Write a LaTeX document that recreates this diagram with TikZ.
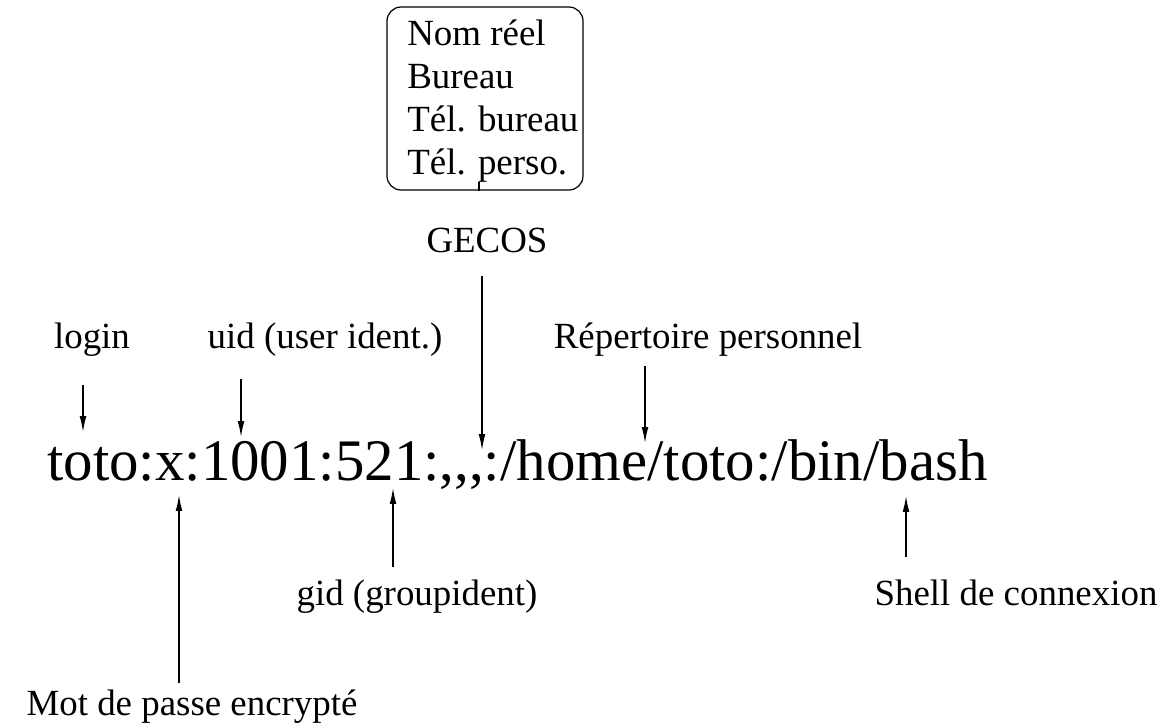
\documentclass[tikz,border=0pt]{standalone}
\usepackage{fontspec}
\setmainfont{Liberation Serif}
\usetikzlibrary{arrows.meta,fit}

\begin{document}
\begin{tikzpicture}[
  x=0.02cm, y=-0.02cm,
  lbl/.style={font=\fontsize{21}{24.4}\selectfont, inner sep=0pt},
  ptr/.style={->, line width=0.7pt},
  >={Latex[length=9pt,width=3.8pt]}
]
\useasboundingbox (0,0) rectangle (1165,727);

% ligne du fichier passwd
\node[anchor=base west, inner sep=0pt, font=\fontsize{33.5}{40}\selectfont] (pw) at (47,480)
  {toto:x:1001:521:,\kern0pt,\kern0pt,:/home/toto:/bin/bash};

% champs au-dessus
\node[lbl, anchor=base] (login) at (92,348) {login};
\node[lbl, anchor=base] (uid) at (325,348) {uid (user ident.)};
\node[lbl, anchor=base] (gecos) at (487,252) {GECOS};
\node[lbl, anchor=base] (rep) at (708,348) {Répertoire personnel};
% champs au-dessous
\node[lbl, anchor=base] (gid) at (417,605) {gid (groupident)};
\node[lbl, anchor=base] (shell) at (1016,605) {Shell de connexion};
\node[lbl, anchor=base] (mdp) at (192,715) {Mot de passe encrypté};

% detail du champ GECOS (base = derniere ligne)
\node[lbl, anchor=base west, align=left] (info) at (407,174)
  {Nom réel\\Bureau\\Tél. bureau\\Tél. perso.};
\node[draw, rounded corners=8pt, line width=0.7pt, inner sep=0pt, fit={(387,7) (583,190)}] (infobox) {};
\coordinate (stub) at (479,182);
\draw[line width=0.7pt] (stub) -- (stub |- infobox.south);

% fleches
\coordinate (loginS) at (83,385);  \coordinate (loginE) at (83,432);
\coordinate (uidS) at (241,379);   \coordinate (uidE) at (241,437);
\coordinate (gecosS) at (482,276); \coordinate (gecosE) at (482,450);
\coordinate (repS) at (645,366);   \coordinate (repE) at (645,443);
\coordinate (mdpS) at (179,683);   \coordinate (mdpE) at (179,495);
\coordinate (gidS) at (393,567);   \coordinate (gidE) at (393,488);
\coordinate (shellS) at (906,557); \coordinate (shellE) at (906,496);

\draw[ptr] (loginS) -- (loginE);
\draw[ptr] (uidS) -- (uidE);
\draw[ptr] (gecosS) -- (gecosE);
\draw[ptr] (repS) -- (repE);
\draw[ptr] (mdpS) -- (mdpE);
\draw[ptr] (gidS) -- (gidE);
\draw[ptr] (shellS) -- (shellE);
\end{tikzpicture}
\end{document}
